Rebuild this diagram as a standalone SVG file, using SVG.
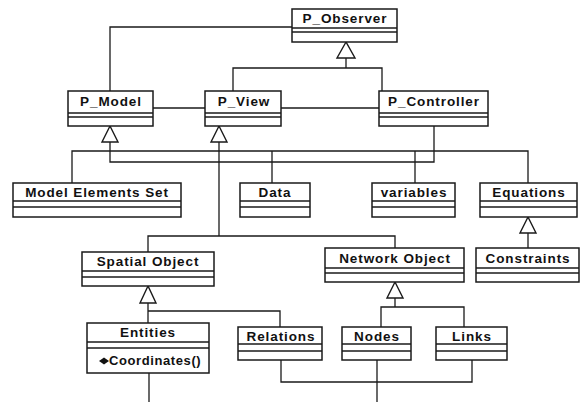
<svg xmlns="http://www.w3.org/2000/svg" width="582" height="402" viewBox="0 0 582 402">
  <style>
    .box { fill: #ffffff; stroke: #1a1a1a; stroke-width: 1.5; }
    .div { stroke: #1a1a1a; stroke-width: 1.3; }
    .name { font-family: "Liberation Sans", Arial, sans-serif; font-weight: bold; font-size: 13.5px; letter-spacing: 0.9px; fill: #111; text-anchor: middle; }
    .op { font-family: "Liberation Sans", Arial, sans-serif; font-weight: bold; font-size: 13px; letter-spacing: 0.6px; fill: #111; }
    .wire { fill: none; stroke: #1a1a1a; stroke-width: 1.3; }
    .tri { fill: #ffffff; stroke: #1a1a1a; stroke-width: 1.4; stroke-linejoin: miter; }
  </style>
  <rect width="582" height="402" fill="#ffffff"/>

  <!-- connectors -->
  <g id="connectors">
    <!-- P_Model / P_View / P_Controller up to P_Observer -->
    <polyline class="wire" points="110,91 110,27 292,27"/>
    <polyline class="wire" points="233,91 233,68 382,68 382,91"/>
    <line class="wire" x1="346" y1="58" x2="346" y2="68"/>
    <polygon class="tri" points="346,42 337,58 355,58"/>
    <!-- associations -->
    <line class="wire" x1="153" y1="108" x2="205" y2="108"/>
    <line class="wire" x1="281" y1="108" x2="379" y2="108"/>
    <!-- P_Model hierarchy -->
    <polyline class="wire" points="110,142 110,162 434,162 434,126"/>
    <polyline class="wire" points="72,183 72,151 528,151 528,183"/>
    <line class="wire" x1="272" y1="151" x2="272" y2="183"/>
    <line class="wire" x1="415" y1="151" x2="415" y2="183"/>
    <polygon class="tri" points="110,126 102,142 118,142"/>
    <!-- P_View hierarchy -->
    <line class="wire" x1="219" y1="142" x2="219" y2="236"/>
    <polyline class="wire" points="148,252 148,236 395,236 395,248"/>
    <polygon class="tri" points="219,126 211,142 227,142"/>
    <!-- Equations -> Constraints -->
    <line class="wire" x1="528" y1="233" x2="528" y2="248"/>
    <polygon class="tri" points="528,217 520,233 536,233"/>
    <!-- Spatial Object hierarchy -->
    <line class="wire" x1="148" y1="303" x2="148" y2="323"/>
    <polyline class="wire" points="148,311 280,311 280,327"/>
    <polygon class="tri" points="148,286 140,303 156,303"/>
    <!-- Network Object hierarchy -->
    <line class="wire" x1="395" y1="298" x2="395" y2="307"/>
    <polyline class="wire" points="381,327 381,307 464,307 464,327"/>
    <polygon class="tri" points="395,282 387,298 403,298"/>
    <!-- lower links -->
    <polyline class="wire" points="281,360 281,382 472,382 472,360"/>
    <line class="wire" x1="377" y1="360" x2="377" y2="402"/>
    <line class="wire" x1="149" y1="373" x2="149" y2="402"/>
  </g>

  <!-- classes -->
  <g id="p-observer">
    <rect class="box" x="292" y="9" width="105" height="33"/>
    <line class="div" x1="292" y1="28" x2="397" y2="28"/>
    <line class="div" x1="292" y1="32" x2="397" y2="32"/>
    <text class="name" x="345" y="23">P_Observer</text>
  </g>
  <g id="p-model">
    <rect class="box" x="68" y="91" width="85" height="35"/>
    <line class="div" x1="68" y1="113" x2="153" y2="113"/>
    <line class="div" x1="68" y1="117" x2="153" y2="117"/>
    <text class="name" x="111" y="106">P_Model</text>
  </g>
  <g id="p-view">
    <rect class="box" x="205" y="91" width="76" height="35"/>
    <line class="div" x1="205" y1="113" x2="281" y2="113"/>
    <line class="div" x1="205" y1="117" x2="281" y2="117"/>
    <text class="name" x="244" y="106">P_View</text>
  </g>
  <g id="p-controller">
    <rect class="box" x="379" y="91" width="109" height="35"/>
    <line class="div" x1="379" y1="113" x2="488" y2="113"/>
    <line class="div" x1="379" y1="117" x2="488" y2="117"/>
    <text class="name" x="434" y="106">P_Controller</text>
  </g>
  <g id="model-elements-set">
    <rect class="box" x="13" y="183" width="168" height="34"/>
    <line class="div" x1="13" y1="201" x2="181" y2="201"/>
    <line class="div" x1="13" y1="207" x2="181" y2="207"/>
    <text class="name" x="97" y="197">Model Elements Set</text>
  </g>
  <g id="data">
    <rect class="box" x="240" y="183" width="70" height="34"/>
    <line class="div" x1="240" y1="201" x2="310" y2="201"/>
    <line class="div" x1="240" y1="207" x2="310" y2="207"/>
    <text class="name" x="275" y="197">Data</text>
  </g>
  <g id="variables">
    <rect class="box" x="372" y="183" width="83" height="34"/>
    <line class="div" x1="372" y1="201" x2="455" y2="201"/>
    <line class="div" x1="372" y1="207" x2="455" y2="207"/>
    <text class="name" x="414" y="197">variables</text>
  </g>
  <g id="equations">
    <rect class="box" x="480" y="183" width="97" height="34"/>
    <line class="div" x1="480" y1="201" x2="577" y2="201"/>
    <line class="div" x1="480" y1="207" x2="577" y2="207"/>
    <text class="name" x="529" y="197">Equations</text>
  </g>
  <g id="spatial-object">
    <rect class="box" x="82" y="252" width="132" height="34"/>
    <line class="div" x1="82" y1="271" x2="214" y2="271"/>
    <line class="div" x1="82" y1="277" x2="214" y2="277"/>
    <text class="name" x="148" y="266">Spatial Object</text>
  </g>
  <g id="network-object">
    <rect class="box" x="325" y="248" width="139" height="34"/>
    <line class="div" x1="325" y1="268" x2="464" y2="268"/>
    <line class="div" x1="325" y1="273" x2="464" y2="273"/>
    <text class="name" x="395" y="263">Network Object</text>
  </g>
  <g id="constraints">
    <rect class="box" x="476" y="248" width="103" height="34"/>
    <line class="div" x1="476" y1="268" x2="579" y2="268"/>
    <line class="div" x1="476" y1="273" x2="579" y2="273"/>
    <text class="name" x="528" y="263">Constraints</text>
  </g>
  <g id="entities">
    <rect class="box" x="87" y="323" width="122" height="50"/>
    <line class="div" x1="87" y1="342" x2="209" y2="342"/>
    <line class="div" x1="87" y1="348" x2="209" y2="348"/>
    <text class="name" x="148" y="337">Entities</text>
    <polygon points="99,361 104,357.5 109,361 104,364.5" fill="#111"/>
    <text class="op" x="109" y="365">Coordinates()</text>
  </g>
  <g id="relations">
    <rect class="box" x="238" y="327" width="84" height="33"/>
    <line class="div" x1="238" y1="344" x2="322" y2="344"/>
    <line class="div" x1="238" y1="351" x2="322" y2="351"/>
    <text class="name" x="281" y="341">Relations</text>
  </g>
  <g id="nodes">
    <rect class="box" x="342" y="327" width="69" height="33"/>
    <line class="div" x1="342" y1="344" x2="411" y2="344"/>
    <line class="div" x1="342" y1="351" x2="411" y2="351"/>
    <text class="name" x="377" y="341">Nodes</text>
  </g>
  <g id="links">
    <rect class="box" x="436" y="327" width="71" height="33"/>
    <line class="div" x1="436" y1="344" x2="507" y2="344"/>
    <line class="div" x1="436" y1="351" x2="507" y2="351"/>
    <text class="name" x="472" y="341">Links</text>
  </g>
</svg>
